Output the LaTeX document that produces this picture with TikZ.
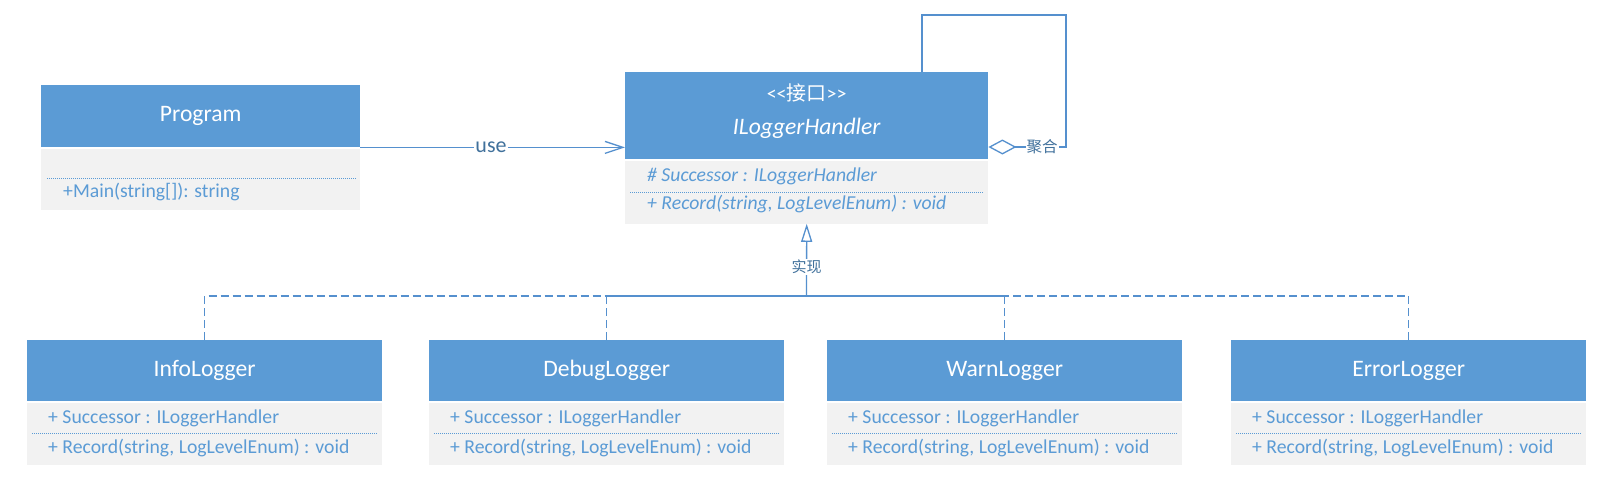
\documentclass[tikz,border=0pt]{standalone}
\usepackage{fontspec}
\setmainfont{Carlito}
\newfontfamily\cjk{Noto Sans CJK SC}
\usetikzlibrary{arrows.meta,calc}
\definecolor{hdr}{HTML}{5B9BD5}
\definecolor{bodyc}{HTML}{F2F2F2}
\definecolor{txt}{HTML}{5B9BD5}
\definecolor{ln}{HTML}{5590CE}
\definecolor{lbl}{HTML}{41719C}
\begin{document}
\begin{tikzpicture}[x=1pt,y=-1pt,
  hbox/.style={rectangle,fill=hdr,text=white,minimum width=355pt,minimum height=61pt,anchor=north west,inner sep=0pt,font=\fontsize{23.6}{28}\selectfont},
  bbox/.style={rectangle,fill=bodyc,minimum width=355pt,minimum height=62pt,anchor=north,inner sep=0pt},
  mem/.style={anchor=west,inner sep=0pt,text=txt,font=\fontsize{19.7}{24}\selectfont},
  imem/.style={mem,font=\fontsize{19.7}{24}\selectfont\itshape},
  sepline/.style={draw=txt,line width=0.7pt,dash pattern=on 1pt off 1pt},
  conn/.style={draw=ln,line width=1.3pt},
  dconn/.style={conn,dash pattern=on 8pt off 4pt},
  lab/.style={fill=white,inner sep=1pt,text=lbl},
]
\useasboundingbox[fill=white] (0,0) rectangle (1603,485);

% Program
\node[hbox,minimum width=319pt,minimum height=62pt] (ph) at (41,85) {Program};
\node[bbox,minimum width=319pt,minimum height=61pt] (pb) at ([yshift=-1pt]ph.south) {};
\draw[sepline] ([xshift=6pt,yshift=-30pt]pb.north west) -- ([xshift=-5pt,yshift=-30pt]pb.north east);
\node[mem] (pm) at ([xshift=22pt,yshift=-44pt]pb.north west) {+Main(string[]): string};

% ILoggerHandler
\node[hbox,minimum width=363pt,minimum height=87pt] (ilh) at (625,72) {};
\node[anchor=center,text=white,inner sep=0pt,font=\fontsize{20}{24}\selectfont] (ster) at ([yshift=-21pt]ilh.north) {<\kern0pt<{\cjk 接口}>\kern0pt>};
\node[anchor=center,text=white,inner sep=0pt,font=\fontsize{23.6}{28}\selectfont\itshape] (ilname) at ([yshift=-56pt]ilh.north) {ILoggerHandler};
\node[bbox,minimum width=363pt,minimum height=63pt] (ilb) at ([yshift=-1pt]ilh.south) {};
\draw[sepline] ([xshift=5pt,yshift=-32pt]ilb.north west) -- ([xshift=-5pt,yshift=-32pt]ilb.north east);
\node[imem] (ils) at ([xshift=22pt,yshift=-16pt]ilb.north west) {\# Successor : ILoggerHandler};
\node[imem] (ilr) at ([xshift=22pt,yshift=-44pt]ilb.north west) {+ Record(string, LogLevelEnum) : void};

% children
\foreach \n/\x in {Info/27, Debug/429, Warn/827, Error/1231}{
  \node[hbox] (\n-h) at (\x,340) {\n Logger};
  \node[bbox] (\n-b) at ([yshift=-1pt]\n-h.south) {};
  \draw[sepline] ([xshift=5pt,yshift=-31pt]\n-b.north west) -- ([xshift=-5pt,yshift=-31pt]\n-b.north east);
  \node[mem] (\n-s) at ([xshift=21pt,yshift=-16pt]\n-b.north west) {+ Successor : ILoggerHandler};
  \node[mem] (\n-r) at ([xshift=21pt,yshift=-46pt]\n-b.north west) {+ Record(string, LogLevelEnum) : void};
}

% use
\draw[conn,-{Straight Barb[length=18pt,width=12pt]}] (ph.south east) -- (ph.south east -| ilh.west);
\node[lab,font=\fontsize{22}{26}\selectfont] (uselab) at (491,147) {use};

% aggregation self loop
\coordinate (lpA) at (922,15);
\coordinate (lpB) at (1066,147);
\draw[conn,{Diamond[open,length=28pt,width=15pt]}-] (ilh.east |- lpB) -- (lpB) |- (lpA) -- (lpA |- ilh.north);
\node[lab,font=\cjk\fontsize{15.5}{18}\selectfont] (agglab) at (1042,147) {聚合};

% realization
\coordinate (jn) at (806.5,296);
\draw[dconn] (Info-h.north) |- (Debug-h.north |- jn);
\draw[dconn] (Debug-h.north) -- (Debug-h.north |- jn);
\draw[dconn] (Warn-h.north) -- (Warn-h.north |- jn);
\draw[dconn] (Error-h.north) |- (Warn-h.north |- jn);
\draw[conn] (Debug-h.north |- jn) -- (Warn-h.north |- jn);
\draw[conn,-{Triangle[open,length=18pt,width=11pt]}] (jn) -- (ilb.south);
\node[lab,font=\cjk\fontsize{15}{18}\selectfont] (reallab) at (806.5,267) {实现};
\end{tikzpicture}
\end{document}
